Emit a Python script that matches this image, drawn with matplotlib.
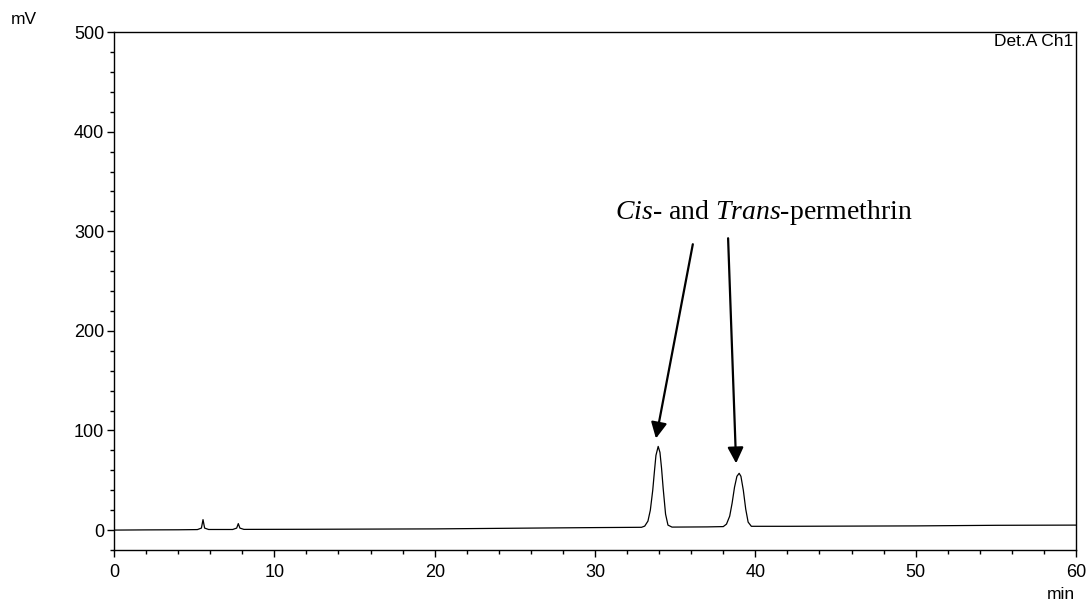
import matplotlib.pyplot as plt
from matplotlib.ticker import MultipleLocator

tempo = [0.0, 2.0, 4.0, 5.2, 5.45, 5.55, 5.65, 5.9, 7.4, 7.65, 7.75, 7.85, 8.1,
         12.0, 20.0, 26.0, 30.0, 32.9, 33.1, 33.3, 33.45, 33.6, 33.7, 33.8, 33.94,
         34.05, 34.15, 34.25, 34.4, 34.55, 34.8, 37.0, 38.0, 38.2, 38.4, 38.55,
         38.7, 38.85, 38.99, 39.1, 39.25, 39.4, 39.55, 39.75, 42.0, 50.0, 55.0, 60.0]
sinal = [0.0, 0.2, 0.3, 0.5, 2.0, 10.5, 2.0, 0.6, 0.6, 2.0, 6.5, 2.0, 0.7,
         0.8, 1.2, 2.0, 2.5, 2.8, 4.0, 9.0, 20.0, 40.0, 58.0, 75.0, 84.0,
         78.0, 62.0, 42.0, 16.0, 5.0, 3.0, 3.2, 3.5, 6.0, 14.0, 27.0,
         43.0, 54.0, 57.0, 54.0, 40.0, 21.0, 8.0, 3.8, 3.8, 4.2, 4.8, 5.0]

# setas: (x_inicio, y_inicio, x_ponta, y_ponta)
setas = [(36.1, 287, 33.8, 92), (38.3, 293, 38.8, 67)]

plt.rcParams['mathtext.fontset'] = 'custom'
plt.rcParams['mathtext.rm'] = 'Liberation Serif'
plt.rcParams['mathtext.it'] = 'Liberation Serif:italic'

fig = plt.figure(figsize=(10.86, 6.05), dpi=100)
ax = fig.add_axes([0.105, 0.0909, 0.8858, 0.8561])

ax.plot(tempo, sinal, color='black', lw=0.9)
ax.set_xlim(0, 60)
ax.set_ylim(-20, 500)

ax.xaxis.set_major_locator(MultipleLocator(10))
ax.xaxis.set_minor_locator(MultipleLocator(2))
ax.yaxis.set_major_locator(MultipleLocator(100))
ax.yaxis.set_minor_locator(MultipleLocator(20))
ax.tick_params(which='major', direction='out', length=5, width=1, labelsize=13,
               pad=2, colors='black')
ax.tick_params(axis='x', which='major', pad=5)
ax.tick_params(which='minor', direction='out', length=3, width=1)
for lbl in ax.get_xticklabels() + ax.get_yticklabels():
    lbl.set_family('Liberation Sans')
for sp in ax.spines.values():
    sp.set_linewidth(1)

for x0, y0, x1, y1 in setas:
    ax.annotate('', xy=(x1, y1), xytext=(x0, y0),
                arrowprops=dict(arrowstyle='-|>', color='black', lw=1.6,
                                mutation_scale=24, shrinkA=0, shrinkB=0))

ax.text(40.5, 319, r'$\it{Cis}$- and $\it{Trans}$-permethrin', ha='center', va='center',
        fontsize=20, family='Liberation Serif')

ax.text(0.997, 0.997, 'Det.A Ch1', transform=ax.transAxes, ha='right', va='top',
        fontsize=12.5, family='Liberation Sans')
fig.text(0.01, 0.968, 'mV', fontsize=12.5, family='Liberation Sans', va='center')
fig.text(0.99, 0.018, 'min', fontsize=12.5, family='Liberation Sans', ha='right', va='center')

fig.savefig('out.png', dpi=100)
